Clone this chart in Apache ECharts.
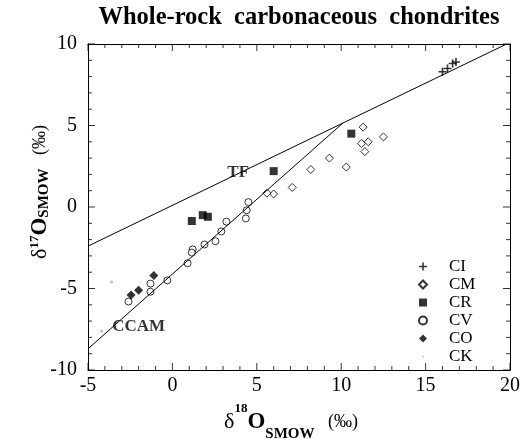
<!DOCTYPE html>
<html><head><meta charset="utf-8">
<script src="https://cdn.jsdelivr.net/npm/echarts@6/dist/echarts.min.js"></script>
<style>html,body{margin:0;padding:0;background:#fff}#c{width:522px;height:439px}</style>
</head><body><div id="c"></div>
<script>
var titleText = 'Whole-rock  carbonaceous  chondrites';
var xTicks = [-5, 0, 5, 10, 15, 20];
var yTicks = [-10, -5, 0, 5, 10];
var CI = [[16.0,8.3],[16.3,8.5],[16.6,8.8],[16.8,8.9]];
var CM = [[11.3,4.9],[12.5,4.3],[11.2,3.9],[11.6,4.0],[11.4,3.4],[10.3,2.45],[9.3,3.0],[8.2,2.3],[7.1,1.2],[6.0,0.8],[5.6,0.85]];
var CR = [[1.15,-0.86],[1.8,-0.5],[2.1,-0.6],[6.0,2.2],[10.6,4.5]];
var CV = [[4.5,0.3],[4.4,-0.2],[4.35,-0.7],[3.2,-0.9],[2.9,-1.5],[2.55,-2.1],[1.9,-2.3],[1.2,-2.6],[1.15,-2.8],[0.9,-3.45],[-0.3,-4.5],[-1.3,-4.7],[-1.3,-5.2],[-2.6,-5.8]];
var CO = [[-1.1,-4.2],[-2.0,-5.1],[-2.45,-5.4]];
var CK = [[-3.6,-4.6],[-4.2,-7.6]];
var TF = [[-5,-2.4],[19.7,9.95]];
var CCAM = [[-5,-8.7],[10.1,5.15]];
var lineLabels = [{name:'TF', value:[3.9,2.1]}, {name:'CCAM', value:[-2.0,-7.35]}];

var serif = '"Liberation Serif","DejaVu Serif",serif';
var plus = 'path://M4,0H6V4H10V6H6V10H4V6H0V4H4Z';
var dot = 'path://M0,0L0.01,0L0,0.01Z M10,10L9.99,10L10,9.99Z M4,4H6V6H4Z';
var xMin = xTicks[0], xMax = xTicks[xTicks.length-1];
var yMin = yTicks[0], yMax = yTicks[yTicks.length-1];

// axis tick decoration (frame ticks on all four sides)
var xMinor = [], yMinor = [];
for (var v = xMin; v <= xMax; v++) if (xTicks.indexOf(v) < 0) xMinor.push(v);
for (var w = yMin; w <= yMax; w++) if (yTicks.indexOf(w) < 0) yMinor.push(w);
var MAJ = 7, MIN = 4;
function tickSeries(vals, side, len){
  var data = vals.map(function(t){
    if (side === 'b') return [t, yMin];
    if (side === 't') return [t, yMax];
    if (side === 'l') return [xMin, t];
    return [xMax, t];
  });
  var vert = side === 'b' || side === 't';
  var off = side === 'b' ? [0, -len/2] : side === 't' ? [0, len/2] : side === 'l' ? [len/2, 0] : [-len/2, 0];
  return {type:'scatter', data:data, symbol:'rect', symbolSize: vert ? [1, len] : [len, 1],
    symbolOffset:off, silent:true, clip:false, z:5, itemStyle:{color:'#000'}, legendHoverLink:false};
}

var chart = echarts.init(document.getElementById('c'));
function axisX(pos, showLabel){
  return {type:'value', position:pos, min:xMin, max:xMax, interval:5,
    axisLine:{show:true, onZero:false, lineStyle:{color:'#000', width:1}},
    axisTick:{show:false}, minorTick:{show:false},
    splitLine:{show:false},
    axisLabel:{show:showLabel, color:'#000', fontFamily:serif, fontSize:20, margin:6}};
}
function axisY(pos, showLabel){
  return {type:'value', position:pos, min:yMin, max:yMax, interval:5,
    axisLine:{show:true, onZero:false, lineStyle:{color:'#000', width:1}},
    axisTick:{show:false}, minorTick:{show:false},
    splitLine:{show:false},
    axisLabel:{show:showLabel, color:'#000', fontFamily:serif, fontSize:20, margin:11}};
}
var richX = {
  d:{fontSize:22, fontFamily:serif, color:'#000', lineHeight:40},
  sup:{fontSize:13, fontWeight:'bold', fontFamily:serif, color:'#000', verticalAlign:'top', lineHeight:28},
  o:{fontSize:23, fontWeight:'bold', fontFamily:serif, color:'#000', lineHeight:40},
  sub:{fontSize:15, fontWeight:'bold', fontFamily:serif, color:'#000', verticalAlign:'bottom', lineHeight:14},
  u:{fontSize:18, fontFamily:serif, color:'#000', lineHeight:40}
};
var richY = {
  d:{fontSize:22, fontFamily:serif, color:'#000', lineHeight:24},
  sup:{fontSize:13, fontWeight:'bold', fontFamily:serif, color:'#000', verticalAlign:'top', lineHeight:14},
  o:{fontSize:23, fontWeight:'bold', fontFamily:serif, color:'#000', lineHeight:24},
  sub:{fontSize:15, fontWeight:'bold', fontFamily:serif, color:'#000', verticalAlign:'bottom', lineHeight:14},
  u:{fontSize:18, fontFamily:serif, color:'#000', lineHeight:24}
};
var xa = axisX('bottom', true);
xa.name = '{d|δ}{sup|18}{o|O}{sub|SMOW}{u|   (‰)}';
xa.nameLocation = 'middle'; xa.nameGap = 32; xa.nameMoveOverlap = false;
xa.nameTextStyle = {color:'#000', fontFamily:serif, rich:richX, padding:[0,16,0,0]};
var ya = axisY('left', true);
ya.name = '{d|δ}{sup|17}{o|O}{sub|SMOW}{u|   (‰)}';
ya.nameLocation = 'middle'; ya.nameGap = 36; ya.nameRotate = 90; ya.nameMoveOverlap = false;
ya.nameTextStyle = {color:'#000', fontFamily:serif, rich:richY, padding:[0,0,0,30]};

var openStyle = {color:'#fff', borderColor:'#000', borderWidth:1};
chart.setOption({
  animation:false,
  title:{text:titleText, left:294, top:0, textAlign:'center',
    textStyle:{fontFamily:serif, fontWeight:'bold', fontSize:24.5, color:'#000'}},
  grid:{left:88, right:12, top:44, bottom:69, outerBoundsMode:'none', containLabel:false},
  xAxis:[xa, axisX('top', false)],
  yAxis:[ya, axisY('right', false)],
  legend:{orient:'vertical', left:418, top:258, padding:0, itemWidth:8, itemHeight:8, itemGap:1,
    textStyle:{fontFamily:serif, fontSize:17, color:'#000', padding:[0,0,0,17]},
    data:['CI','CM','CR','CV','CO',{name:'CK', icon:dot}]},
  series:[
    tickSeries(xTicks, 'b', MAJ), tickSeries(xTicks, 't', MAJ),
    tickSeries(xMinor, 'b', MIN), tickSeries(xMinor, 't', MIN),
    tickSeries(yTicks, 'l', MAJ), tickSeries(yTicks, 'r', MAJ),
    tickSeries(yMinor, 'l', MIN), tickSeries(yMinor, 'r', MIN),
    {type:'line', data:TF, showSymbol:false, symbol:'none', lineStyle:{color:'#000', width:1}, silent:true},
    {type:'line', data:CCAM, showSymbol:false, symbol:'none', lineStyle:{color:'#000', width:1}, silent:true},
    {name:'CI', type:'scatter', data:CI, symbol:plus, symbolSize:8, itemStyle:{color:'#000'}},
    {name:'CM', type:'scatter', data:CM, symbol:'diamond', symbolSize:8, itemStyle:openStyle},
    {name:'CR', type:'scatter', data:CR, symbol:'rect', symbolSize:8, itemStyle:{color:'#000'}},
    {name:'CV', type:'scatter', data:CV, symbol:'circle', symbolSize:7, itemStyle:openStyle},
    {name:'CO', type:'scatter', data:CO, symbol:'diamond', symbolSize:9, itemStyle:{color:'#000'}},
    {name:'CK', type:'scatter', data:CK, symbol:'circle', symbolSize:3, itemStyle:{color:'#aaa'}},
    {type:'scatter', data:lineLabels, symbolSize:0, silent:true,
      label:{show:true, position:'inside', formatter:'{b}', fontFamily:serif, fontWeight:'bold', fontSize:17, color:'#000'}}
  ]
});
</script></body></html>
